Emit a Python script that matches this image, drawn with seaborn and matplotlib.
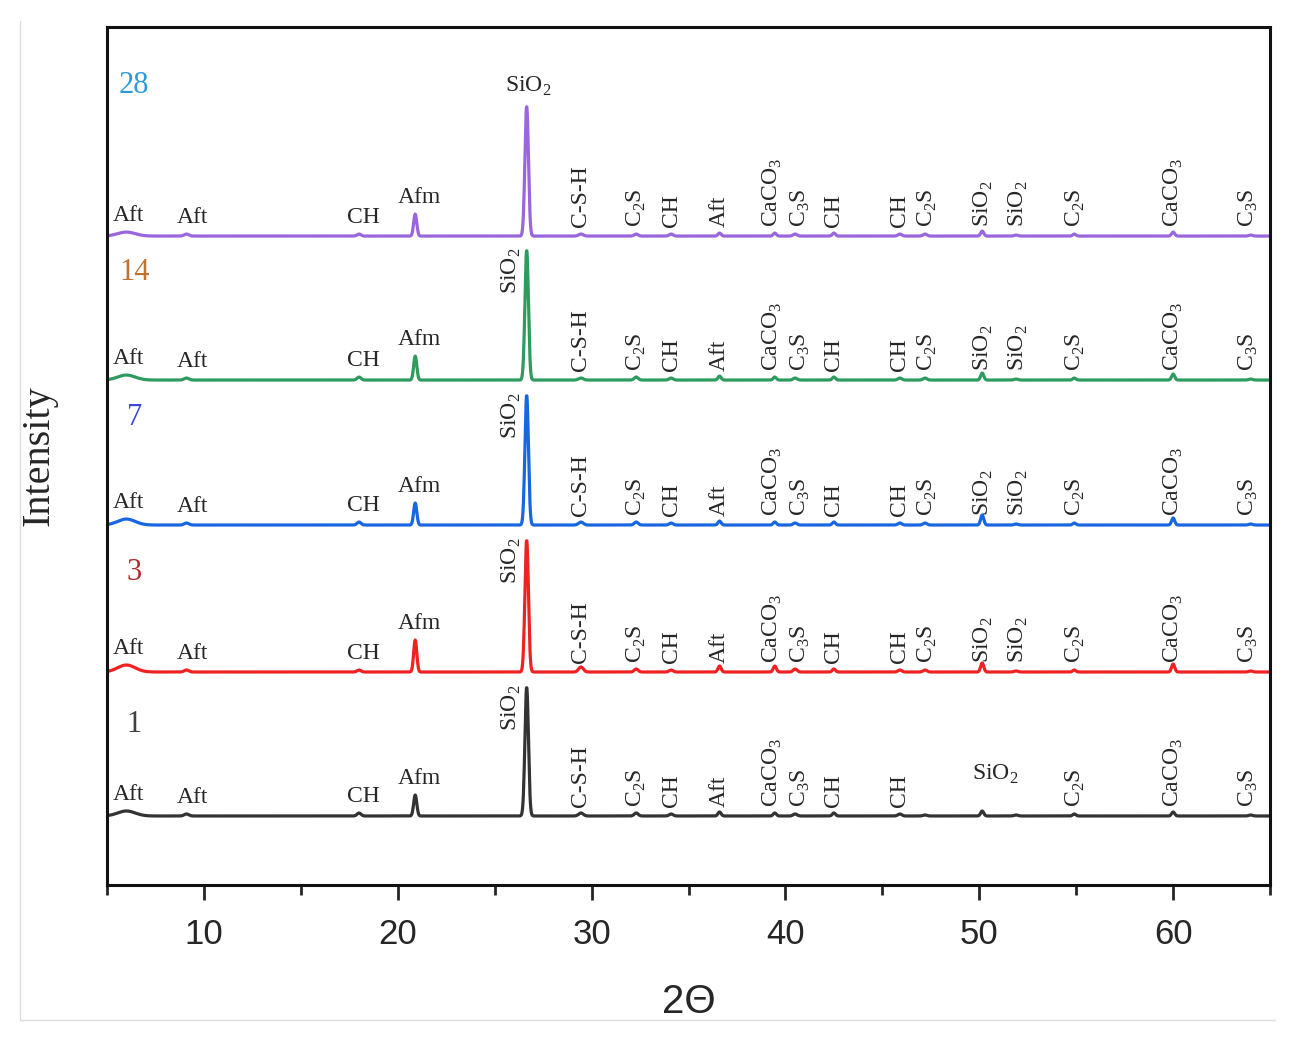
#%%
import numpy as np
import pandas as pd
import matplotlib.pyplot as plt
import seaborn as sns
from matplotlib.lines import Line2D
from matplotlib.ticker import MultipleLocator

# ---- data (intensities in arbitrary units) ----
samples = ["1", "3", "7", "14", "28"]
baselines = [69, 213, 360, 505, 649]
peak_pos = [6.0, 9.1, 18.0, 20.9, 26.65, 29.45, 32.3, 34.1, 36.6, 39.45, 40.5,
            42.5, 45.9, 47.2, 50.15, 51.9, 54.9, 60.0, 64.0]
peak_width = [0.45, 0.12, 0.1, 0.08, 0.09, 0.12, 0.1, 0.1, 0.08, 0.08, 0.1,
              0.08, 0.1, 0.1, 0.08, 0.1, 0.08, 0.08, 0.1]
heights_1 = [5, 2, 3, 21, 129, 3, 3, 2, 4, 3, 2, 3, 2, 1, 5, 1, 2, 4, 1]
heights_3 = [7, 2, 2, 32, 132, 5, 3, 2, 6, 6, 3, 3, 2, 2, 9, 1, 2, 8, 1]
heights_7 = [6, 2, 3, 22, 130, 3, 3, 2, 4, 3, 2, 3, 2, 2, 10, 1, 2, 7, 1]
heights_14 = [5, 2, 3, 24, 130, 2, 3, 2, 4, 3, 2, 3, 2, 2, 7, 1, 2, 6, 1]
heights_28 = [4, 2, 2, 22, 130, 2, 2, 2, 3, 3, 2, 3, 2, 2, 5, 1, 2, 4, 1]
heights = [heights_1, heights_3, heights_7, heights_14, heights_28]

# phase labels (text, 2theta)
flat_labels = [("Aft", 6.1), ("Aft", 9.4), ("CH", 18.2), ("Afm", 21.1)]
rot_labels = [("C-S-H", 29.45), ("C$_\\mathrm{2}$S", 32.3), ("CH", 34.1),
              ("Aft", 36.6), ("CaCO$_\\mathrm{3}$", 39.35), ("C$_\\mathrm{3}$S", 40.75),
              ("CH", 42.5), ("CH", 45.9), ("C$_\\mathrm{2}$S", 47.3),
              ("SiO$_\\mathrm{2}$", 50.2), ("SiO$_\\mathrm{2}$", 52.0),
              ("C$_\\mathrm{2}$S", 54.95), ("CaCO$_\\mathrm{3}$", 60.0),
              ("C$_\\mathrm{3}$S", 63.9)]
rot_labels_1 = [l for l in rot_labels if l[1] not in (47.3, 50.2, 52.0)]

line_colors = ["#333333", "#EE2222", "#1866E0", "#2E9B5E", "#9966DD"]
name_colors = ["#404040", "#B03030", "#3A48D8", "#C07232", "#2E9BD6"]
name_offsets = [91, 100, 108, 108, 151]

#%% build long-form table
theta = np.linspace(5, 65, 3001)
rows = []
for s, base, hs in zip(samples, baselines, heights):
    y = np.full_like(theta, base, dtype=float)
    for p, w, h in zip(peak_pos, peak_width, hs):
        y += h * np.exp(-0.5 * ((theta - p) / w) ** 2)
    rows.append(pd.DataFrame({"theta": theta, "intensity": y, "sample": s}))
df = pd.concat(rows, ignore_index=True)

#%% plot
sns.set_style("ticks")
plt.rcParams["font.family"] = ["Liberation Serif", "DejaVu Serif"]
plt.rcParams["mathtext.fontset"] = "custom"
plt.rcParams["mathtext.rm"] = "Liberation Serif"

fig = plt.figure(figsize=(12.94, 10.42), dpi=100)
ax = fig.add_axes([0.0827, 0.1507, 0.8988, 0.8233])
sns.lineplot(data=df, x="theta", y="intensity", hue="sample", hue_order=samples,
             palette=line_colors, estimator=None, sort=False, linewidth=2.3,
             legend=False, ax=ax)

ax.set_xlim(5, 65)
ax.set_ylim(0, 858)
ax.set_yticks([])
ax.xaxis.set_major_locator(MultipleLocator(10))
ax.xaxis.set_minor_locator(MultipleLocator(5))
ax.tick_params(axis="x", which="major", direction="out", length=11, width=2,
               labelsize=25, pad=13)
ax.tick_params(axis="x", which="minor", direction="out", length=7, width=2)
for lab in ax.get_xticklabels():
    lab.set_family("Liberation Sans")
for sp in ax.spines.values():
    sp.set_visible(True)
    sp.set_linewidth(2.2)
    sp.set_color("#111111")
ax.set_xlabel("2Θ", fontsize=29, family="Liberation Sans", labelpad=23)
ax.set_ylabel("Intensity", fontsize=29, labelpad=36)

LBL = 17
RLBL = 17
for i, (s, base, hs) in enumerate(zip(samples, baselines, heights)):
    # sample name
    ax.text(6.4, base + name_offsets[i], s, color=name_colors[i], fontsize=22,
            ha="center", va="center")
    # horizontal labels
    for txt, p in flat_labels:
        k = int(np.argmin(np.abs(np.array(peak_pos) - p)))
        top = base + hs[k]
        ax.text(p, top + 6, txt, fontsize=LBL, ha="center", va="bottom")
    # main SiO2 label
    if s == "28":
        ax.text(26.75, base + hs[4] + 8, "SiO$_\\mathrm{2}$", fontsize=LBL,
                ha="center", va="bottom")
    else:
        ax.text(25.85, base + hs[4] + 2, "SiO$_\\mathrm{2}$", fontsize=LBL,
                ha="center", va="top", rotation=90)
    # rotated labels
    labs = rot_labels_1 if s == "1" else rot_labels
    for txt, p in labs:
        ax.text(p, base + 9, txt, fontsize=RLBL, ha="center", va="bottom",
                rotation=90)
    if s == "1":
        ax.text(50.8, base + 30, "SiO$_\\mathrm{2}$", fontsize=LBL,
                ha="center", va="bottom")

# faint frame of the original picture
fig.add_artist(Line2D([0.0155, 0.0155], [0.021, 0.98], color="#DDDDDD", lw=1))
fig.add_artist(Line2D([0.0155, 0.985], [0.021, 0.021], color="#DDDDDD", lw=1))

plt.savefig("out.png", dpi=100)
